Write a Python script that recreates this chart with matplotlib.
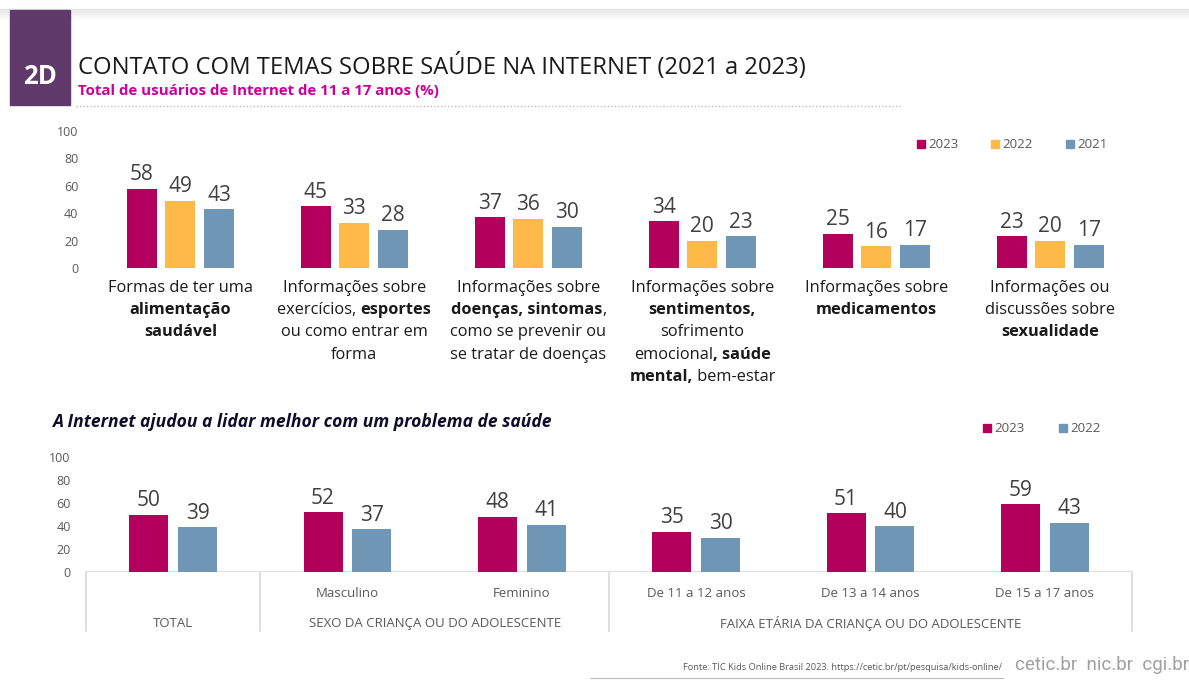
import matplotlib
matplotlib.use("Agg")
import matplotlib.pyplot as plt
from matplotlib.patches import Rectangle
from matplotlib.offsetbox import TextArea, HPacker, VPacker, AnnotationBbox
import numpy as np

FONT = "Open Sans"
plt.rcParams['font.family'] = [FONT, 'DejaVu Sans']

# ---------------- data ----------------
title = "CONTATO COM TEMAS SOBRE SAÚDE NA INTERNET (2021 a 2023)"
subtitle = "Total de usuários de Internet de 11 a 17 anos (%)"
badge = "2D"

years_top = ["2023", "2022", "2021"]
contact_2023 = [58, 45, 37, 34, 25, 23]
contact_2022 = [49, 33, 36, 20, 16, 20]
contact_2021 = [43, 28, 30, 23, 17, 17]

# category labels: lines of (text, bold?) segments
topic_labels = [
    [[("Formas de ter uma", False)], [("alimentação", True)], [("saudável", True)]],
    [[("Informações sobre", False)], [("exercícios, ", False), ("esportes", True)],
     [("ou como entrar em", False)], [("forma", False)]],
    [[("Informações sobre", False)], [("doenças, sintomas", True), (",", False)],
     [("como se prevenir ou", False)], [("se tratar de doenças", False)]],
    [[("Informações sobre", False)], [("sentimentos,", True)], [("sofrimento", False)],
     [("emocional", False), (", saúde", True)], [("mental,", True), (" bem-estar", False)]],
    [[("Informações sobre", False)], [("medicamentos", True)]],
    [[("Informações ou", False)], [("discussões sobre", False)], [("sexualidade", True)]],
]

help_title = "A Internet ajudou a lidar melhor com um problema de saúde"
years_bottom = ["2023", "2022"]
help_categories = ["", "Masculino", "Feminino", "De 11 a 12 anos", "De 13 a 14 anos", "De 15 a 17 anos"]
help_2023 = [50, 52, 48, 35, 51, 59]
help_2022 = [39, 37, 41, 30, 40, 43]
group_labels = ["TOTAL", "SEXO DA CRIANÇA OU DO ADOLESCENTE", "FAIXA ETÁRIA DA CRIANÇA OU DO ADOLESCENTE"]
group_members = [[0], [1, 2], [3, 4, 5]]

source = "Fonte: TIC Kids Online Brasil 2023. https://cetic.br/pt/pesquisa/kids-online/"
logos = "cetic.br  nic.br  cgi.br"

yticks = [0, 20, 40, 60, 80, 100]

# ---------------- style ----------------
C23 = "#B3005C"
C22 = "#FFB948"
C21 = "#7096B6"
GRAY = "#595959"
VALC = "#404040"
TXT = "#1A1A1A"

W, H = 1189, 680
fig = plt.figure(figsize=(W / 100, H / 100), dpi=100)

def fx(px):
    return px / W

def fy(py):
    return 1 - py / H

# background axes in pixel coordinates for decorations
bg = fig.add_axes([0, 0, 1, 1], zorder=-5)
bg.set_xlim(0, W)
bg.set_ylim(H, 0)
bg.axis("off")

# top shadow
for i in range(12):
    bg.plot([0, W], [9 + i, 9 + i], color="#D8D8D8", alpha=0.55 * (1 - i / 12) ** 1.5, lw=1)
# badge
bg.add_patch(Rectangle((10, 10), 60, 95, color="#613A6C", zorder=2))
bg.text(40, 76, badge, color="white", fontsize=18.5, fontweight="bold", ha="center", va="center", zorder=3)
bg.text(78, 67, title, color=TXT, fontsize=17.1, ha="left", va="center")
bg.text(78, 91, subtitle, color="#CC0099", fontsize=10.8, fontweight="bold", ha="left", va="center")
bg.plot([76, 900], [106, 106], color="#BFBFBF", lw=1, ls=(0, (1, 1.5)))
bg.text(52, 422, help_title, color="#0D0D2B", fontsize=12.6, fontweight="bold", fontstyle="italic",
        ha="left", va="center")
bg.plot([590, 1003], [678, 678], color="#BFBFBF", lw=0.8)
bg.text(1002, 668, source, color=GRAY, fontsize=6.65, ha="right", va="center")
bg.text(1189, 665, logos, color="#A0A0A0", fontsize=13.5, ha="right", va="center", family="Roboto")

# ---------------- top chart ----------------
ax1 = fig.add_axes([fx(86), fy(268), fx(1132) - fx(86), fy(131) - fy(268)])
x = np.arange(len(contact_2023))
bw = 0.1725
step = 0.2214
series_top = [contact_2023, contact_2022, contact_2021]
cols_top = [C23, C22, C21]
for k, (vals, col, lab) in enumerate(zip(series_top, cols_top, years_top)):
    bars = ax1.bar(x + (k - 1) * step, vals, width=bw, color=col, label=lab, zorder=2)
    for b, v in zip(bars, vals):
        ax1.annotate(str(v), (b.get_x() + b.get_width() / 2, v), xytext=(0, 2.5),
                     textcoords="offset points", ha="center", va="bottom", fontsize=15, color=VALC)
ax1.set_xlim(-0.543, 5.47)
ax1.set_ylim(0, 100)
ax1.set_yticks(yticks)
ax1.tick_params(axis="y", length=0, pad=5.5, labelsize=9, labelcolor=GRAY)
ax1.set_xticks([])
for s in ax1.spines.values():
    s.set_visible(False)
ax1.patch.set_alpha(0)

for i, lines in enumerate(topic_labels):
    rows = []
    for line in lines:
        parts = [TextArea(t, textprops=dict(fontsize=11.8, color=TXT,
                                            fontweight="bold" if b else "normal")) for t, b in line]
        rows.append(HPacker(children=parts, sep=0, pad=0, align="baseline"))
    pack = VPacker(children=rows, sep=4.4, pad=0, align="center")
    ab = AnnotationBbox(pack, (i, 0), xybox=(0, -8.8), boxcoords="offset points",
                        box_alignment=(0.5, 1), frameon=False, annotation_clip=False)
    ax1.add_artist(ab)

# legend top (manual)
leg_x_top = [917, 991, 1066]
for lx, col, lab in zip(leg_x_top, cols_top, years_top):
    bg.add_patch(Rectangle((lx, 140), 8, 8, color=col))
    bg.text(lx + 11, 144, lab, color=GRAY, fontsize=9.5, ha="left", va="center")

# ---------------- bottom chart ----------------
ax2 = fig.add_axes([fx(86), fy(572), fx(1132) - fx(86), fy(457) - fy(572)])
x2 = np.arange(len(help_2023))
bw2 = 0.2235
off2 = 0.1404
series_bot = [help_2023, help_2022]
cols_bot = [C23, C21]
for k, (vals, col, lab) in enumerate(zip(series_bot, cols_bot, years_bottom)):
    bars = ax2.bar(x2 + (2 * k - 1) * off2, vals, width=bw2, color=col, label=lab, zorder=2)
    for b, v in zip(bars, vals):
        ax2.annotate(str(v), (b.get_x() + b.get_width() / 2, v), xytext=(0, 2.5),
                     textcoords="offset points", ha="center", va="bottom", fontsize=15, color=VALC)
ax2.set_xlim(-0.5, 5.5)
ax2.set_ylim(0, 100)
ax2.set_yticks(yticks)
ax2.tick_params(axis="y", length=0, pad=11, labelsize=9, labelcolor=GRAY)
ax2.set_xticks(x2)
ax2.set_xticklabels(help_categories)
ax2.tick_params(axis="x", length=0, pad=11, labelsize=9.5, labelcolor=GRAY)
for s in ax2.spines.values():
    s.set_visible(False)
ax2.patch.set_alpha(0)
ax2.axhline(0, color="#D9D9D9", lw=1.2, zorder=1)
bounds = [-0.5] + [m[-1] + 0.5 for m in group_members]
for bx in bounds:
    ax2.axvline(bx, ymin=-0.515, ymax=0, color="#D9D9D9", lw=1.2, clip_on=False)
for lab, mem in zip(group_labels, group_members):
    ax2.text(np.mean(mem), -0.445, lab, transform=ax2.get_xaxis_transform(), ha="center", va="center",
             fontsize=9.5, color=GRAY)

leg_x_bot = [983, 1059]
for lx, col, lab in zip(leg_x_bot, cols_bot, years_bottom):
    bg.add_patch(Rectangle((lx, 424), 8, 8, color=col))
    bg.text(lx + 11, 428, lab, color=GRAY, fontsize=9.5, ha="left", va="center")

fig.savefig("out.png", dpi=100)
